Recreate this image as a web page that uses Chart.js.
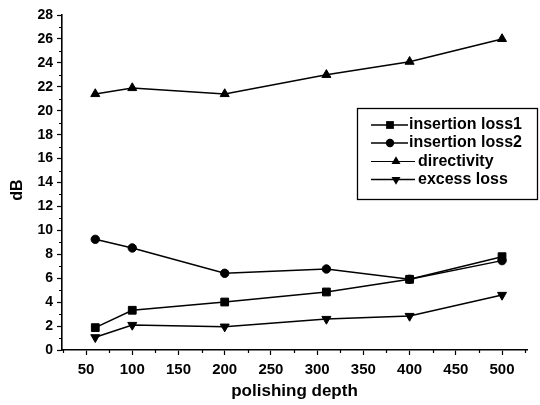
<!DOCTYPE html>
<html>
<head>
<meta charset="utf-8">
<script src="https://cdn.jsdelivr.net/npm/chart.js@4/dist/chart.umd.min.js"></script>
<style>
  html, body { margin: 0; padding: 0; background: #fff; }
  #wrap { width: 540px; height: 405px; }
</style>
</head>
<body>
<div id="wrap"><canvas id="c" width="540" height="405"></canvas></div>
<script>
// polishing depth (x)
const depth = [60, 100, 200, 310, 400, 500];
// series values in dB
const insertionLoss1 = [1.87, 3.32, 4.01, 4.85, 5.91, 7.8];
const insertionLoss2 = [9.25, 8.53, 6.41, 6.77, 5.91, 7.47];
const directivity = [21.4, 21.9, 21.4, 23.0, 24.1, 26.0];
const excessLoss = [1.06, 2.09, 1.95, 2.59, 2.84, 4.6];
// tick labels
const xTicks = [50, 100, 150, 200, 250, 300, 350, 400, 450, 500];
const yTicks = [0, 2, 4, 6, 8, 10, 12, 14, 16, 18, 20, 22, 24, 26, 28];

const FONT = '"Liberation Sans", Arial, sans-serif';

const toPoints = vals => depth.map((x, i) => ({ x: x, y: vals[i] }));

function series(label, vals, style, radius, rotation) {
    return {
        label: label,
        data: toPoints(vals),
        borderColor: '#000',
        backgroundColor: '#000',
        borderWidth: 1.5,
        pointStyle: style,
        pointRadius: radius,
        pointRotation: rotation || 0,
        pointBorderWidth: 1,
        pointBackgroundColor: '#000',
        tension: 0
    };
}

// small outward ticks between the labelled ones, plus the y title
const minorTicks = {
    id: 'minorTicks',
    afterDraw(chart) {
        const ctx = chart.ctx;
        const xs = chart.scales.x, ys = chart.scales.y;
        ctx.save();
        ctx.strokeStyle = '#000';
        ctx.lineWidth = 1.2;
        ctx.beginPath();
        for (let v = 25; v <= 525; v += 50) {
            const px = Math.round(xs.getPixelForValue(v)) + 0.5;
            ctx.moveTo(px, ys.bottom);
            ctx.lineTo(px, ys.bottom + 3);
        }
        for (let v = 1; v < 28; v += 2) {
            const py = Math.round(ys.getPixelForValue(v)) + 0.5;
            ctx.moveTo(xs.left, py);
            ctx.lineTo(xs.left - 3, py);
        }
        ctx.stroke();

        // y title sits a little below the middle in the original
        ctx.translate(18, 190);
        ctx.rotate(-Math.PI / 2);
        ctx.fillStyle = '#000';
        ctx.font = 'bold 16px ' + FONT;
        ctx.textAlign = 'center';
        ctx.textBaseline = 'middle';
        ctx.fillText('dB', 0, 0);
        ctx.restore();
    }
};

function marker(ctx, style, x, y, r, rot) {
    ctx.beginPath();
    if (style === 'rect') {
        const s = r * Math.SQRT1_2;
        ctx.rect(x - s, y - s, 2 * s, 2 * s);
    } else if (style === 'circle') {
        ctx.arc(x, y, r, 0, Math.PI * 2);
    } else {
        const d = rot ? -1 : 1;
        const h = r * 1.5;
        ctx.moveTo(x, y - d * r);
        ctx.lineTo(x - r * 0.866, y + d * h - d * r);
        ctx.lineTo(x + r * 0.866, y + d * h - d * r);
        ctx.closePath();
    }
    ctx.fill();
}

// boxed legend inside the plot, like the original figure
const boxLegend = {
    id: 'boxLegend',
    afterDraw(chart) {
        const ctx = chart.ctx;
        ctx.save();
        ctx.strokeStyle = '#000';
        ctx.lineWidth = 1.3;
        ctx.strokeRect(357.5, 108.5, 180, 91);
        const rows = [
            { y: 125, l0: 371, l1: 408, m: 390, t: 409 },
            { y: 143, l0: 371, l1: 408, m: 390, t: 409 },
            { y: 161.5, l0: 371, l1: 415, m: 396, t: 418 },
            { y: 179.5, l0: 371, l1: 415, m: 396, t: 418 }
        ];
        chart.data.datasets.forEach((ds, i) => {
            const r = rows[i];
            ctx.strokeStyle = '#000';
            ctx.fillStyle = '#000';
            ctx.lineWidth = i === 2 ? 1 : 1.5;
            ctx.beginPath();
            ctx.moveTo(r.l0, r.y);
            ctx.lineTo(r.l1, r.y);
            ctx.stroke();
            marker(ctx, ds.pointStyle, r.m, r.y, ds.pointRadius, ds.pointRotation);
            ctx.font = 'bold 16px ' + FONT;
            ctx.textBaseline = 'middle';
            ctx.textAlign = 'left';
            ctx.fillText(ds.label, r.t, r.y);
        });
        ctx.restore();
    }
};

new Chart(document.getElementById('c'), {
    type: 'line',
    data: {
        datasets: [
            series('insertion loss1', insertionLoss1, 'rect', 5.5),
            series('insertion loss2', insertionLoss2, 'circle', 4.2),
            series('directivity', directivity, 'triangle', 5.2),
            series('excess loss', excessLoss, 'triangle', 5.2, 180)
        ]
    },
    options: {
        responsive: false,
        animation: false,
        layout: { padding: { top: 15, right: 13, left: 0, bottom: 0 } },
        plugins: {
            legend: { display: false },
            tooltip: { enabled: false }
        },
        scales: {
            x: {
                type: 'linear',
                min: 24,
                max: 527,
                afterBuildTicks: s => { s.ticks = xTicks.map(v => ({ value: v })); },
                afterFit: s => { s.height = 55; },
                grid: {
                    drawOnChartArea: false,
                    drawTicks: true,
                    tickLength: 5,
                    tickColor: '#000',
                    tickWidth: 1.2
                },
                border: { display: true, color: '#000', width: 1.6 },
                ticks: {
                    color: '#000',
                    padding: 6,
                    maxRotation: 0,
                    autoSkip: false,
                    font: { family: FONT, size: 15, weight: 'bold' }
                },
                title: {
                    display: true,
                    text: 'polishing depth',
                    color: '#000',
                    padding: { top: 0, bottom: 3 },
                    font: { family: FONT, size: 17, weight: 'bold' }
                }
            },
            y: {
                min: 0,
                max: 28,
                afterBuildTicks: s => { s.ticks = yTicks.map(v => ({ value: v })); },
                afterFit: s => { s.width = 62; },
                grid: {
                    drawOnChartArea: false,
                    drawTicks: true,
                    tickLength: 5,
                    tickColor: '#000',
                    tickWidth: 1.2
                },
                border: { display: true, color: '#000', width: 1.6 },
                ticks: {
                    color: '#000',
                    padding: 4,
                    autoSkip: false,
                    font: { family: FONT, size: 14, weight: 'bold' }
                }
            }
        }
    },
    plugins: [minorTicks, boxLegend]
});
</script>
</body>
</html>
